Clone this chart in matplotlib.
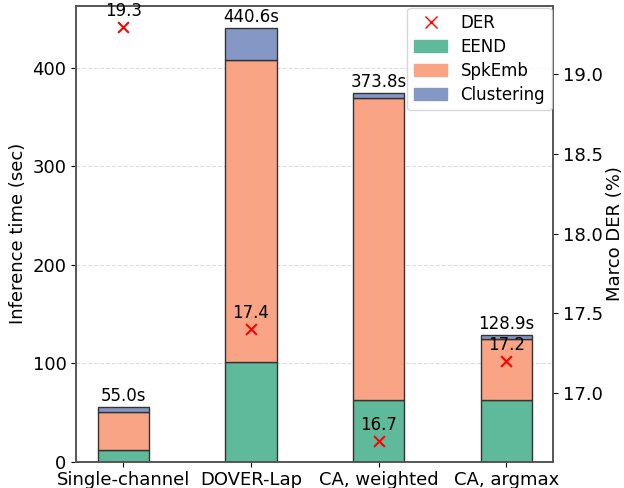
import numpy as np
import matplotlib.pyplot as plt
from matplotlib.patches import Patch
from matplotlib.lines import Line2D

# Inference time breakdown (sec) and DER (%) per system
systems = ['Single-channel', 'DOVER-Lap', 'CA, weighted', 'CA, argmax']
eend = [11.6, 100.7, 62.5, 62.5]
spkemb = [38.5, 307.1, 306.4, 61.5]
clustering = [4.9, 32.8, 4.9, 4.9]
der = [19.3, 17.4, 16.7, 17.2]

colors = {'EEND': '#5fba9b', 'SpkEmb': '#f9a585', 'Clustering': '#8497c5'}

plt.rcParams['font.size'] = 12

fig, ax = plt.subplots(figsize=(6.24, 4.88), dpi=100)
fig.subplots_adjust(left=0.122, right=0.887, bottom=0.054, top=0.988)

x = np.arange(len(systems))
w = 0.4
eend = np.array(eend)
spkemb = np.array(spkemb)
clustering = np.array(clustering)

ax.bar(x, eend, w, color=colors['EEND'], edgecolor='#333333', linewidth=1, zorder=2)
ax.bar(x, spkemb, w, bottom=eend, color=colors['SpkEmb'], edgecolor='#333333', linewidth=1, zorder=2)
ax.bar(x, clustering, w, bottom=eend + spkemb, color=colors['Clustering'], edgecolor='#333333', linewidth=1, zorder=2)

total = eend + spkemb + clustering
for xi, t in zip(x, total):
    ax.text(xi, t + 2, f'{t:.1f}s', ha='center', va='bottom', fontsize=12)

ax.set_xticks(x)
ax.set_xticklabels(systems, fontsize=13)
ax.tick_params(axis='y', labelsize=13)
ax.set_ylabel('Inference time (sec)', fontsize=13)
ax.yaxis.grid(True, linestyle='--', color='#dddddd', linewidth=0.8, zorder=0)
ax.set_axisbelow(True)

ax2 = ax.twinx()
ax2.scatter(x, der, marker='x', color='red', s=60, zorder=3)
for xi, d in zip(x, der):
    ax2.annotate(f'{d:.1f}', (xi, d), xytext=(0, 5), textcoords='offset points',
                 ha='center', va='bottom', fontsize=12)
ax2.set_ylabel('Marco DER (%)', fontsize=13, labelpad=2)
ax2.tick_params(axis='y', labelsize=13)

for spine in list(ax.spines.values()) + list(ax2.spines.values()):
    spine.set_color('#555555')
    spine.set_linewidth(1.2)

handles = [
    Line2D([], [], marker='x', color='red', linestyle='none', markersize=9),
    Patch(color=colors['EEND']),
    Patch(color=colors['SpkEmb']),
    Patch(color=colors['Clustering']),
]
ax2.legend(handles, ['DER', 'EEND', 'SpkEmb', 'Clustering'], loc='upper right', fontsize=12,
           borderaxespad=0.1, labelspacing=0.35)

fig.savefig('out.png', dpi=100)
